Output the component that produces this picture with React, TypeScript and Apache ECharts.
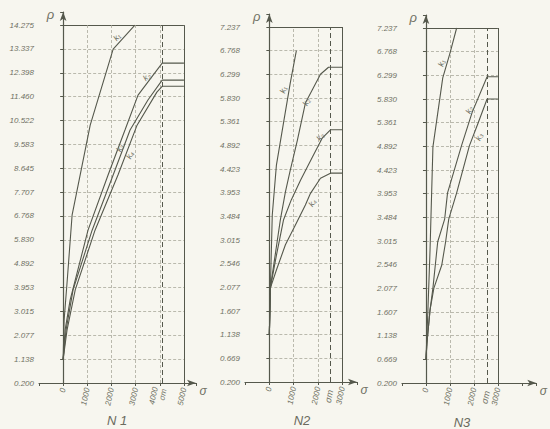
import { useEffect, useRef } from 'react';
import * as echarts from 'echarts';

// ---------- tick labels ----------
const yTickLabelsN1 = ['0.200', '1.138', '2.077', '3.015', '3.953', '4.892', '5.830', '6.768', '7.707', '8.645', '9.583', '10.522', '11.460', '12.398', '13.337', '14.275'];
const yTickLabelsN2 = ['0.200', '0.669', '1.138', '1.607', '2.077', '2.546', '3.015', '3.484', '3.953', '4.423', '4.892', '5.361', '5.830', '6.299', '6.768', '7.237'];
const yTickLabelsN3 = ['0.200', '0.669', '1.138', '1.607', '2.077', '2.546', '3.015', '3.484', '3.953', '4.423', '4.892', '5.361', '5.830', '6.299', '6.768', '7.237'];
const xTicksN1 = [0, 1000, 2000, 3000, 4000, 5000];
const xTicksN2 = [0, 1000, 2000, 3000];
const xTicksN3 = [0, 1000, 2000, 3000];
const sigmaTN1 = 4100;
const sigmaTN2 = 2510;
const sigmaTN3 = 2550;
const curveNames = ['k₁', 'k₂', 'k₃', 'k₄'];
const titles = ['N 1', 'N2', 'N3'];

// ---------- N1 curves (σ, P) ----------
const n1k1X = [0, 40, 170, 370, 1120, 2070, 2970];
const n1k1Y = [1.14, 2.68, 4.25, 6.8, 10.34, 13.33, 14.275];
const n1k2X = [0, 80, 290, 1030, 1860, 2560, 3100, 4100, 5000];
const n1k2Y = [1.14, 2.28, 3.47, 6.21, 8.38, 10.15, 11.52, 12.78, 12.78];
const n1k3X = [0, 120, 410, 1200, 2070, 2770, 3510, 4100, 5000];
const n1k3Y = [1.14, 2.28, 3.86, 6.21, 8.38, 10.15, 11.33, 12.11, 12.11];
const n1k4X = [0, 160, 500, 1320, 2270, 3060, 3880, 4100, 5000];
const n1k4Y = [1.14, 2.28, 3.86, 6.21, 8.38, 10.34, 11.64, 11.87, 11.87];

// ---------- N2 curves ----------
const n2k1X = [0, 40, 120, 290, 580, 860, 1110];
const n2k1Y = [1.14, 2.02, 3.51, 4.5, 5.33, 6.13, 6.768];
const n2k2X = [0, 40, 210, 450, 660, 860, 1150, 1480, 2100, 2430, 3000];
const n2k2Y = [1.14, 2.06, 2.62, 3.41, 3.97, 4.4, 4.99, 5.73, 6.3, 6.44, 6.44];
const n2k3X = [0, 40, 290, 580, 900, 1280, 1770, 2180, 2510, 3000];
const n2k3Y = [1.14, 2.06, 2.71, 3.41, 3.81, 4.2, 4.66, 5.04, 5.2, 5.2];
const n2k4X = [0, 40, 290, 660, 1070, 1480, 1690, 2100, 2510, 3000];
const n2k4Y = [1.14, 2.06, 2.42, 2.92, 3.31, 3.71, 3.94, 4.24, 4.34, 4.34];

// ---------- N3 curves ----------
const n3k1X = [0, 80, 170, 290, 700, 990, 1280];
const n3k1Y = [0.669, 1.63, 2.84, 4.88, 6.25, 6.72, 7.237];
const n3k2X = [0, 40, 170, 290, 490, 780, 900, 1480, 1930, 2550, 3000];
const n3k2Y = [0.669, 0.99, 1.65, 2.08, 3.0, 3.45, 3.97, 4.9, 5.57, 6.27, 6.27];
const n3k3X = [0, 40, 170, 330, 660, 820, 950, 1280, 1810, 2140, 2550, 3000];
const n3k3Y = [0.669, 0.99, 1.65, 2.08, 2.54, 3.0, 3.45, 3.97, 4.9, 5.31, 5.83, 5.83];

// ---------- curve label anchors (σ, P) ----------
const n1LabelX = [2230, 3470, 2350, 2770];
const n1LabelY = [13.8, 12.23, 9.44, 9.16];
const n2LabelX = [576, 1523, 2099, 1770];
const n2LabelY = [5.99, 5.75, 5.06, 3.75];
const n3LabelX = [658, 1811, 2222];
const n3LabelY = [6.54, 5.61, 5.08];

// ---------- layout / styles ----------
const INK = '#55584c';
const GRIDC = '#a9aa9c';
const TXT = '#707164';
const BG = '#f7f6ef';
const FONT = 'Liberation Sans';

const panelLayouts = [
  { left: 39, top: 12, width: 157, height: 371, axisMaxX: 5500, titleX: 117, titleY: 420, labelRot: [48, 40, 65, 65] },
  { left: 245, top: 14, width: 112, height: 368, axisMaxX: 3600, titleX: 302, titleY: 420, labelRot: [72, 65, 55, 55] },
  { left: 402, top: 15, width: 136, height: 368, axisMaxX: 4600, titleX: 462, titleY: 422, labelRot: [72, 65, 65] },
];

const panels = [
  {
    yLabels: yTickLabelsN1, xTicks: xTicksN1, sigmaT: sigmaTN1, sigmaOnTick: 4000,
    curves: [[n1k1X, n1k1Y], [n1k2X, n1k2Y], [n1k3X, n1k3Y], [n1k4X, n1k4Y]],
    labelX: n1LabelX, labelY: n1LabelY,
  },
  {
    yLabels: yTickLabelsN2, xTicks: xTicksN2, sigmaT: sigmaTN2, sigmaOnTick: null,
    curves: [[n2k1X, n2k1Y], [n2k2X, n2k2Y], [n2k3X, n2k3Y], [n2k4X, n2k4Y]],
    labelX: n2LabelX, labelY: n2LabelY,
  },
  {
    yLabels: yTickLabelsN3, xTicks: xTicksN3, sigmaT: sigmaTN3, sigmaOnTick: null,
    curves: [[n3k1X, n3k1Y], [n3k2X, n3k2Y], [n3k3X, n3k3Y]],
    labelX: n3LabelX, labelY: n3LabelY,
  },
];

function buildOption() {
  const grid: any[] = [];
  const xAxis: any[] = [];
  const yAxis: any[] = [];
  const series: any[] = [];
  const graphic: any[] = [];

  panels.forEach((p, gi) => {
    const L = panelLayouts[gi];
    const yMin = parseFloat(p.yLabels[0]);
    const yTopV = parseFloat(p.yLabels[p.yLabels.length - 1]);
    const n = p.yLabels.length - 1;
    const step = Math.round(((yTopV - yMin) / n) * 1e6) / 1e6;
    const yAxisMax = yMin + step * (n + 0.55);
    const boxMax = p.xTicks[p.xTicks.length - 1];

    grid.push({ left: L.left, top: L.top, width: L.width, height: L.height, containLabel: false });

    xAxis.push({
      type: 'value', gridIndex: gi, min: -1000, max: L.axisMaxX, interval: 1000,
      splitLine: { show: false },
      axisLine: { show: true, symbol: ['none', 'arrow'], symbolSize: [5, 9], lineStyle: { color: INK, width: 1.2 } },
      axisTick: { show: true, length: 3, lineStyle: { color: INK } },
      axisLabel: {
        rotate: 78, margin: 5, fontSize: 8, fontStyle: 'italic', fontFamily: FONT, color: TXT, lineHeight: 9,
        formatter: (v: number) => {
          if (p.xTicks.indexOf(v) < 0) return '';
          if (p.sigmaOnTick === v) return v + '\nσт';
          return String(v);
        },
      },
      name: 'σ', nameLocation: 'end', nameGap: 2,
      nameTextStyle: { fontSize: 12, fontStyle: 'italic', fontFamily: FONT, color: TXT, align: 'left', verticalAlign: 'top', padding: [2, 0, 0, 0] },
    });

    yAxis.push({
      type: 'value', gridIndex: gi, min: yMin, max: yAxisMax, interval: step,
      splitLine: { show: false },
      axisLine: { show: true, symbol: ['none', 'arrow'], symbolSize: [5, 9], lineStyle: { color: INK, width: 1.2 } },
      axisTick: { show: true, length: 3, lineStyle: { color: INK } },
      axisLabel: {
        margin: 5, fontSize: 8, fontStyle: 'italic', fontFamily: FONT, color: TXT,
        formatter: (v: number) => {
          const r = (v - yMin) / step;
          const k = Math.round(r);
          if (Math.abs(r - k) > 0.05 || k < 0 || k > n) return '';
          return p.yLabels[k];
        },
      },
      name: 'ρ', nameLocation: 'end', nameGap: -2,
      nameTextStyle: { fontSize: 13, fontStyle: 'italic', fontFamily: FONT, color: TXT, align: 'right', verticalAlign: 'middle', padding: [0, 9, 0, 0] },
    });

    // box grid lines
    const lines: any[] = [];
    for (let k = 1; k <= n; k++) {
      const yv = yMin + k * step;
      lines.push([
        { coord: [0, yv], lineStyle: k === n ? { color: INK, width: 1, type: 'solid' } : { color: GRIDC, width: 0.8, type: [3, 2] } },
        { coord: [boxMax, yv] },
      ]);
    }
    p.xTicks.forEach((xv) => {
      const edge = xv === 0 || xv === boxMax;
      lines.push([
        { coord: [xv, yMin], lineStyle: edge ? { color: INK, width: 1, type: 'solid' } : { color: GRIDC, width: 0.8, type: [3, 2] } },
        { coord: [xv, yMin + n * step] },
      ]);
    });
    lines.push([
      { coord: [p.sigmaT, yMin], lineStyle: { color: INK, width: 1, type: [5, 3] } },
      { coord: [p.sigmaT, yMin + n * step] },
    ]);

    const gridSeries: any = {
      type: 'line', xAxisIndex: gi, yAxisIndex: gi, data: [[0, yMin]], showSymbol: false, symbol: 'none',
      lineStyle: { opacity: 0 }, silent: true, z: 1,
      markLine: { silent: true, symbol: ['none', 'none'], label: { show: false }, z: 1, data: lines },
    };
    if (p.sigmaOnTick === null) {
      gridSeries.markPoint = {
        silent: true, symbol: 'circle', symbolSize: 0,
        data: [{ coord: [p.sigmaT, yMin] }],
        label: {
          show: true, formatter: 'σт', position: [0, 8], align: 'right', verticalAlign: 'middle', rotate: 78,
          fontSize: 9, fontStyle: 'italic', fontFamily: FONT, color: TXT,
        },
      };
    }
    series.push(gridSeries);

    p.curves.forEach(([xs, ys], ci) => {
      series.push({
        type: 'line', xAxisIndex: gi, yAxisIndex: gi, silent: true, z: 3,
        data: xs.map((x: number, j: number) => [x, ys[j]]),
        showSymbol: false, symbol: 'none',
        lineStyle: { color: INK, width: 1.1 },
        markPoint: {
          silent: true, symbol: 'circle', symbolSize: 0,
          data: [{ coord: [p.labelX[ci], p.labelY[ci]] }],
          label: {
            show: true, formatter: curveNames[ci], position: 'inside', rotate: L.labelRot[ci],
            fontSize: 8, fontStyle: 'italic', fontFamily: FONT, color: TXT,
          },
        },
      });
    });

    graphic.push({
      type: 'text', x: L.titleX, y: L.titleY, silent: true,
      style: { text: titles[gi], align: 'center', verticalAlign: 'middle', font: `italic 13px ${FONT}`, fill: '#6a6b5e' },
    });
  });

  return { animation: false, backgroundColor: BG, grid, xAxis, yAxis, series, graphic };
}

export default function App() {
  const ref = useRef<HTMLDivElement>(null);
  useEffect(() => {
    if (!ref.current) return;
    const chart = echarts.init(ref.current, undefined, { renderer: 'svg' });
    chart.setOption(buildOption() as any);
    return () => chart.dispose();
  }, []);
  return <div ref={ref} style={{ position: 'fixed', left: 0, top: 0, width: 550, height: 429 }} />;
}
